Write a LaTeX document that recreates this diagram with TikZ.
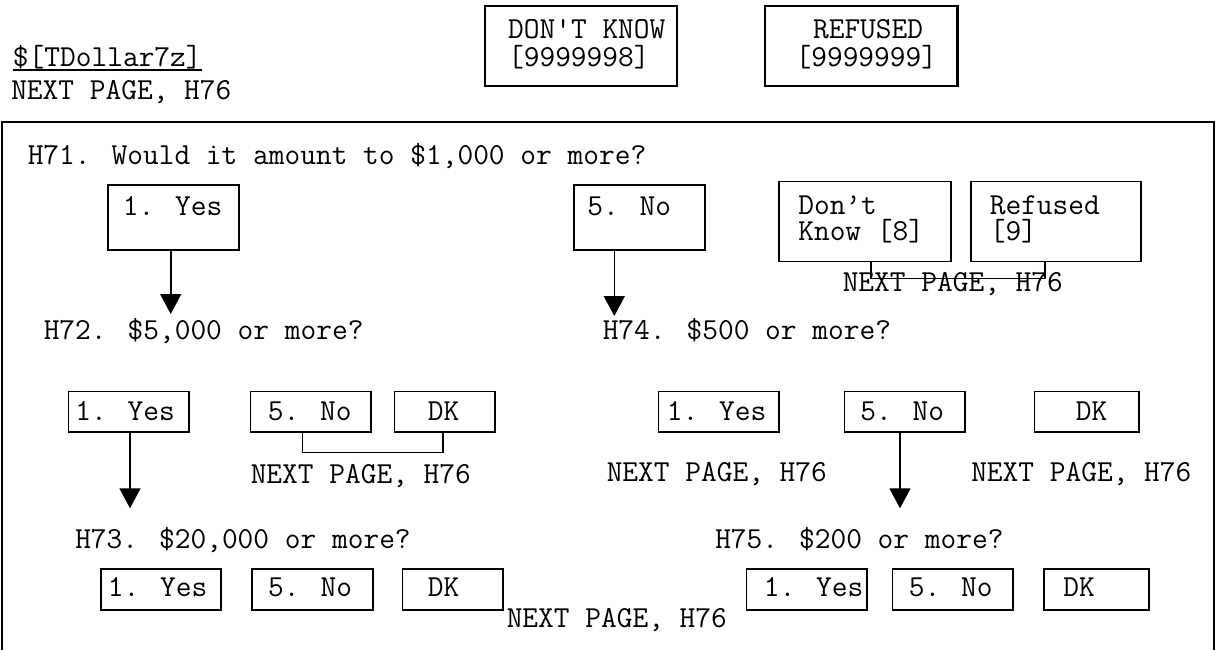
\documentclass[tikz,border=0pt]{standalone}
\usetikzlibrary{arrows.meta}
\newlength\pxu
\setlength\pxu{0.75pt}
\newcommand\boxtxt[3]{\hspace*{#1\pxu}\parbox[t]{#2\pxu}{#3}}
\tikzset{
  txt/.style={inner sep=0pt, anchor=base west},
  bx/.style={draw, line width=1.2pt, inner sep=0pt, anchor=north west},
  bigbx/.style={bx, line width=1.6pt},
  toprow/.style={text height=30.7\pxu, text depth=34\pxu},
  wrow/.style={text height=33.3\pxu, text depth=46.7\pxu},
  midrow/.style={text height=29\pxu, text depth=11.3\pxu},
  lowrow/.style={text height=27.4\pxu, text depth=13.3\pxu},
  hdrrow/.style={text height=32\pxu, text depth=48\pxu},
  conn/.style={line width=1.2pt},
  arr/.style={line width=1.2pt, -{Triangle[width=15.75pt,length=15pt]}},
  frame/.style={line width=1.5pt}
}
\begin{document}
\begin{tikzpicture}[x=0.75pt,y=-0.75pt,font={\ttfamily\fontsize{22.9}{26}\selectfont}]
\useasboundingbox (0,0) rectangle (1222,650);

% header
\node[txt] (tdollar) at (12.7,66.7) {\$[TDollar7z]};
\draw[line width=1pt] ([yshift=-2.5pt]tdollar.base west) -- ([yshift=-2.5pt]tdollar.base east);
\node[txt] (np0) at (11,99.3) {NEXT PAGE, H76};
\node[bigbx, hdrrow] (dkall) at (483.6,5) {\boxtxt{0}{192.4}{\fontsize{22.9}{21.4}\selectfont\hspace*{23.5\pxu}DON'T KNOW\\\hspace*{23.5\pxu}[9999998]}};
\node[bigbx, hdrrow] (refall) at (763.6,5) {\boxtxt{0}{192.8}{\fontsize{22.9}{21.4}\selectfont\hspace*{48.4\pxu}REFUSED\\\hspace*{31\pxu}[9999999]}};

% frame
\draw[frame] (2,653) -- (2,122.3) -- (1214,122.3) -- (1214,653);

% H71
\node[txt] (q71) at (27.5,164.3) {H71. Would it amount to \$1,000 or more?};
\node[bx, toprow] (q71yes) at (107.3,184.3) {\boxtxt{14.7}{116.3}{1. Yes}};
\node[bx, toprow] (q71no) at (573.3,184.3) {\boxtxt{13.2}{117.8}{5. No}};
\node[bx, wrow] (q71dk) at (778,180.7) {\boxtxt{19.5}{152.8}{\fontsize{22.9}{19.5}\selectfont Don’t\\Know [8]}};
\node[bx, wrow] (q71ref) at (970,180.7) {\boxtxt{19}{151}{\fontsize{22.9}{19.5}\selectfont Refused\\\relax[9]}};
\draw[conn] ([xshift=4.4pt]q71dk.south) -- ++(0,16) -| ([xshift=-8pt]q71ref.south);
\node[txt] (npdkr) at (842.5,291.7) {NEXT PAGE, H76};
\coordinate (a1) at (170.7,314);
\draw[arr] (q71yes.south -| a1) -- (a1);
\coordinate (a2) at (614.3,316);
\draw[arr] (q71no.south -| a2) -- (a2);

% H72
\node[txt] (q72) at (43.5,339.3) {H72. \$5,000 or more?};
\node[bx, midrow] (q72yes) at (67.7,390.7) {\boxtxt{6.8}{113.8}{1. Yes}};
\node[bx, midrow] (q72no) at (249.7,390.7) {\boxtxt{17.3}{103}{5. No}};
\node[bx, midrow] (q72dk) at (393.7,390.7) {\boxtxt{33.3}{67.3}{DK}};
\draw[conn] ([xshift=-6.1pt]q72no.south) -- ++(0,19.7) -| ([xshift=-1.5pt]q72dk.south);
\node[txt] (np72) at (250.5,483) {NEXT PAGE, H76};
\coordinate (a3) at (130,508.3);
\draw[arr] (q72yes.south -| a3) -- (a3);

% H74
\node[txt] (q74) at (602.5,339.3) {H74. \$500 or more?};
\node[bx, midrow] (q74yes) at (657.7,390.7) {\boxtxt{8.3}{112.3}{1. Yes}};
\node[bx, midrow] (q74no) at (843.7,390.7) {\boxtxt{15.8}{104.5}{5. No}};
\node[bx, midrow] (q74dk) at (1033.5,390.7) {\boxtxt{41.5}{63.4}{DK}};
\node[txt] (np74y) at (606.5,481.7) {NEXT PAGE, H76};
\node[txt] (np74d) at (971,481.7) {NEXT PAGE, H76};
\coordinate (a4) at (900,508.3);
\draw[arr] (q74no.south -| a4) -- (a4);

% H73
\node[txt] (q73) at (75,548.3) {H73. \$20,000 or more?};
\node[bx, lowrow] (q73yes) at (100.3,568.3) {\boxtxt{6.7}{113.4}{1. Yes}};
\node[bx, lowrow] (q73no) at (251.4,568.3) {\boxtxt{16}{104.6}{5. No}};
\node[bx, lowrow] (q73dk) at (401.8,568.3) {\boxtxt{25.2}{75.1}{DK}};
\node[txt] (npbot) at (506.5,627.5) {NEXT PAGE, H76};

% H75
\node[txt] (q75) at (715,548.3) {H75. \$200 or more?};
\node[bx, lowrow] (q75yes) at (745.7,568.3) {\boxtxt{17.3}{103}{1. Yes}};
\node[bx, lowrow] (q75no) at (891.7,568.3) {\boxtxt{16.3}{104.3}{5. No}};
\node[bx, lowrow] (q75dk) at (1043.3,568.3) {\boxtxt{19.2}{85.8}{DK}};
\end{tikzpicture}
\end{document}
